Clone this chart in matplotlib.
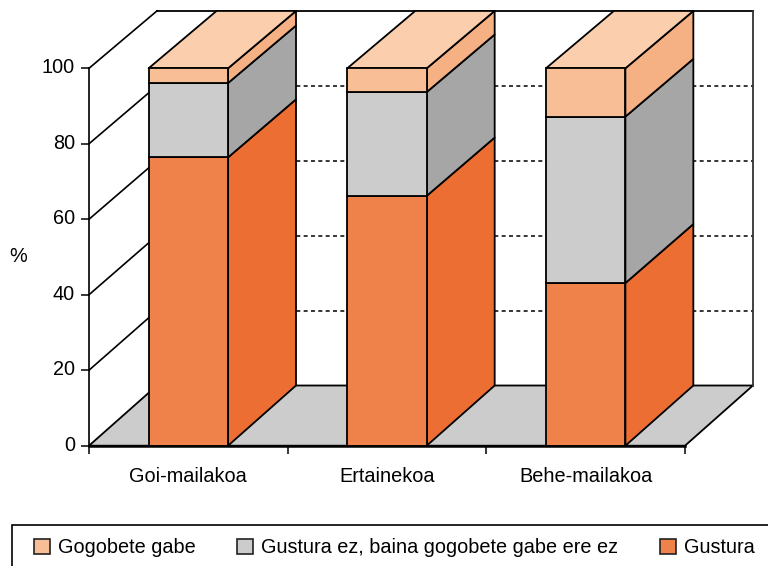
import matplotlib
matplotlib.use('Agg')
import matplotlib.pyplot as plt
from matplotlib.patches import Polygon, Patch, Rectangle
from matplotlib.transforms import ScaledTranslation

categories = ['Goi-mailakoa', 'Ertainekoa', 'Behe-mailakoa']
gustura = [76.4, 66.2, 43.1]
erdikoa = [19.7, 27.5, 44.1]
gabe = [3.9, 6.3, 12.8]
series_names = ['Gustura', 'Gustura ez, baina gogobete gabe ere ez', 'Gogobete gabe']
yticks = [0, 20, 40, 60, 80, 100]

front_colors = ['#EE824A', '#CCCCCC', '#F8BE96']
side_colors = ['#EC6E32', '#A6A6A6', '#F5B083']
top_color = '#FBCFAE'
floor_color = '#CCCCCC'
bar_width = 0.4

plt.rcParams['font.family'] = ['Liberation Sans', 'DejaVu Sans']
plt.rcParams['font.size'] = 14.3

W, H = 768, 566
fig = plt.figure(figsize=(W / 100, H / 100), dpi=100)
ax = fig.add_axes([89 / W, 1 - 445.7 / H, 596 / W, 377.4 / H])
ax.set_xlim(0, 3)
ax.set_ylim(0, 100)
ax.patch.set_alpha(0)


# oblique projection: depth 0 is the front plane, depth 1 the back wall
def proj(x, v, depth=1):
    return x + depth * 0.342, v + depth * (15.95 - 0.0075 * v)


def face(points, color, z, lw=1.3):
    ax.add_patch(Polygon(points, closed=True, facecolor=color, edgecolor='black',
                         linewidth=lw, joinstyle='round', clip_on=False, zorder=z))


# floor
face([proj(0, 0, 0), proj(3, 0, 0), proj(3, 0), proj(0, 0)], floor_color, 1)

# walls and grid
for v in yticks[1:]:
    x0, y0 = proj(0, v)
    x1, y1 = proj(3, v)
    ax.plot([0, x0], [v, y0], color='black', lw=1.2, clip_on=False, zorder=2)
    ax.plot([x0, x1], [y0, y1], color='black', lw=1.3 if v == 100 else 1.1,
            ls='-' if v == 100 else (0, (2.6, 2.2)), clip_on=False, zorder=2)
ax.plot([proj(3, 0)[0], proj(3, 100)[0]], [proj(3, 0)[1], proj(3, 100)[1]],
        color='#333333', lw=1.3, clip_on=False, zorder=2)

# stacked bars
z = 3
for i in range(len(categories)):
    left = i + 0.5 - bar_width / 2
    right = i + 0.5 + bar_width / 2
    base = 0
    for vals, fc, sc in zip([gustura, erdikoa, gabe], front_colors, side_colors):
        top = base + vals[i]
        face([proj(right, base, 0), proj(right, top, 0), proj(right, top), proj(right, base)], sc, z)
        ax.bar(i + 0.5, vals[i], bar_width, bottom=base, color=fc, edgecolor='black',
               linewidth=1.3, clip_on=False, zorder=z + 0.1)
        base = top
    face([proj(left, base, 0), proj(right, base, 0), proj(right, base), proj(left, base)], top_color, z)
    z += 1

# axes
for s in ['top', 'right']:
    ax.spines[s].set_visible(False)
ax.spines['left'].set_linewidth(1.2)
ax.spines['bottom'].set_linewidth(1.8)
ax.spines['left'].set_zorder(20)
ax.spines['bottom'].set_zorder(20)
ax.set_yticks(yticks)
ax.set_xticks([0, 1, 2, 3])
ax.set_xticklabels([])
ax.set_xticks([0.5, 1.5, 2.5], minor=True)
ax.set_xticklabels(categories, minor=True)
ax.tick_params(axis='x', which='major', length=6, width=1.1)
ax.tick_params(axis='x', which='minor', length=0, pad=15)
ax.tick_params(axis='y', length=6, width=1.1, pad=4)
ax.set_ylabel('%', rotation=0, labelpad=16, va='center')
ax.yaxis.set_label_coords(-71 / 596, 0.5)

# tick labels sit a little above their ticks in the original
up = ScaledTranslation(0, 2.5 / 100, fig.dpi_scale_trans)
for lab in ax.get_yticklabels():
    lab.set_transform(lab.get_transform() + up)

# legend box runs off the picture on the right and at the bottom
fig.add_artist(Rectangle((12 / W, -0.02), 1, 1 - 525 / H + 0.02, transform=fig.transFigure,
                         facecolor='white', edgecolor='black', linewidth=1.2))
handles = [Patch(facecolor=c, edgecolor='#222222', linewidth=1.2)
           for c in [front_colors[2], front_colors[1], front_colors[0]]]
fig.legend(handles, series_names[::-1], ncol=3, frameon=False,
           loc='center left', bbox_to_anchor=(26 / W, 1 - 547.5 / H), borderaxespad=0,
           handlelength=0.8, handleheight=0.8, handletextpad=0.4, columnspacing=2.1)

fig.savefig('out.png', dpi=100)
